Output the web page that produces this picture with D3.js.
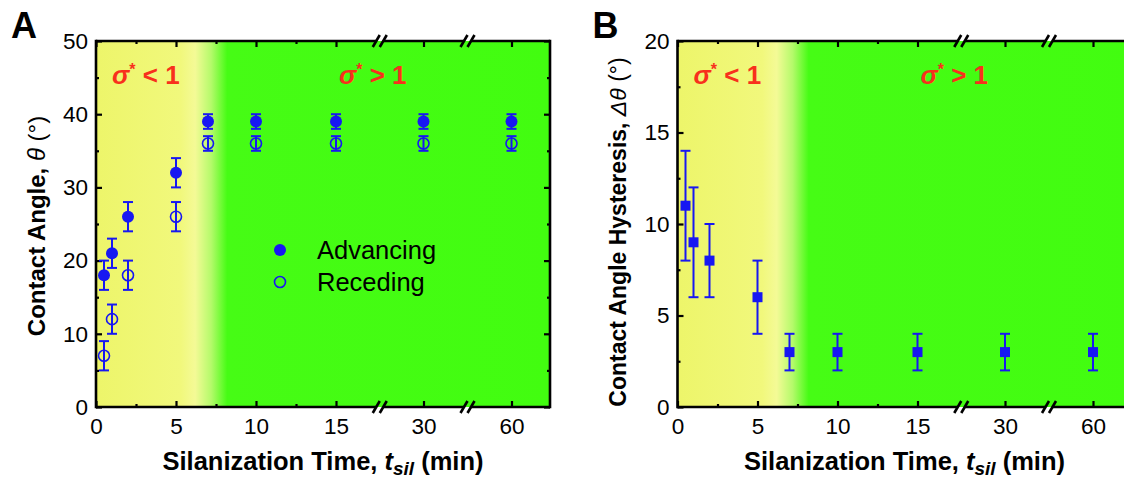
<!DOCTYPE html>
<html><head><meta charset="utf-8">
<script src="https://cdn.jsdelivr.net/npm/d3@7"></script>
<style>
html,body{margin:0;padding:0;background:#fff;}
svg{display:block;font-family:Arial,"Liberation Sans",sans-serif;}
</style></head>
<body><svg id="chart" width="1124" height="479"></svg>
<script>
// ---- data ----
const times = [0.5, 1, 2, 5, 7, 10, 15, 30, 60];
const advancing = [18, 21, 26, 32, 39, 39, 39, 39, 39];
const advancingErr = [2, 2, 2, 2, 1, 1, 1, 1, 1];
const receding = [7, 12, 18, 26, 36, 36, 36, 36, 36];
const recedingErr = [2, 2, 2, 2, 1, 1, 1, 1, 1];
const hysteresis = [11, 9, 8, 6, 3, 3, 3, 3, 3];
const hysteresisErr = [3, 3, 2, 2, 1, 1, 1, 1, 1];
const xTickValues = [0, 5, 10, 15, 30, 60];
const xTickLabels = ["0", "5", "10", "15", "30", "60"];
const xMinorValues = [2.5, 7.5, 12.5];
const xBreakDomain = [0, 15, 30, 60, 73.3];
const legendLabels = ["Advancing", "Receding"];
const bgStops = [[0, "#edf56a"], [5.3, "#f1f87c"], [6.2, "#f4fa96"], [7.2, "#b4fa6a"], [8.2, "#46fc15"], [73.3, "#42fd10"]];

const BLUE = "#1717f2", RED = "#f8301c";
const svg = d3.select("#chart");
const W = 454, H = 366, TOP = 41;

function panel(opts) {
  const g = svg.append("g").attr("transform", `translate(${opts.left},${TOP})`);
  const x = d3.scaleLinear().domain(xBreakDomain).range([0, 240, 327.5, 415.5, W]);
  const y = d3.scaleLinear().domain([0, opts.yMax]).range([H, 0]);
  const gradId = "bg" + opts.id;
  const grad = svg.append("defs").append("linearGradient").attr("id", gradId)
    .attr("gradientUnits", "userSpaceOnUse").attr("x1", 0).attr("x2", W).attr("y1", 0).attr("y2", 0);
  bgStops.forEach(s => grad.append("stop").attr("offset", x(s[0]) / W).attr("stop-color", s[1]));
  g.append("rect").attr("width", W).attr("height", H).attr("fill", `url(#${gradId})`);

  // ticks
  const ax = (fn, scale, vals, size, labels) => {
    const a = fn(scale).tickValues(vals).tickSize(size).tickPadding(6);
    a.tickFormat(labels ? ((d, i) => labels[i]) : () => "");
    return a;
  };
  const mk = (sel) => { sel.select(".domain").remove(); sel.selectAll("line").attr("stroke", "#000").attr("stroke-width", 2.2); sel.selectAll("text").attr("fill", "#000").style("font-size", "22.5px").style("font-family", "Arial, 'Liberation Sans', sans-serif"); return sel; };
  mk(g.append("g").attr("transform", `translate(0,${H})`).call(ax(d3.axisBottom, x, xTickValues, -6, xTickLabels))).selectAll("text").attr("dy", "0.75em").attr("y", 10);
  mk(g.append("g").attr("transform", `translate(0,${H})`).call(ax(d3.axisBottom, x, xMinorValues, -3)));
  mk(g.append("g").call(ax(d3.axisTop, x, xTickValues, -6)));
  mk(g.append("g").call(ax(d3.axisTop, x, xMinorValues, -3)));
  const yMaj = d3.range(0, opts.yMax + 0.001, opts.yStep);
  const yMin = d3.range(opts.yStep / 2, opts.yMax, opts.yStep);
  mk(g.append("g").call(ax(d3.axisLeft, y, yMaj, -6, yMaj.map(String)))).selectAll("text").attr("x", -8);
  mk(g.append("g").call(ax(d3.axisLeft, y, yMin, -3)));
  mk(g.append("g").attr("transform", `translate(${W},0)`).call(ax(d3.axisRight, y, yMaj, -6)));
  mk(g.append("g").attr("transform", `translate(${W},0)`).call(ax(d3.axisRight, y, yMin, -3)));

  // frame with breaks
  const b1 = (x(15) + x(30)) / 2, b2 = (x(30) + x(60)) / 2, gap = 3.5;
  const frame = g.append("g").attr("stroke", "#000").attr("stroke-width", 2.6).attr("fill", "none");
  frame.append("line").attr("x1", 0).attr("x2", 0).attr("y1", -1.3).attr("y2", H + 1.3);
  frame.append("line").attr("x1", W).attr("x2", W).attr("y1", -1.3).attr("y2", H + 1.3);
  [0, H].forEach(yy => {
    const segs = [[0, b1 - gap], [b1 + gap, b2 - gap], [b2 + gap, W]];
    segs.forEach(s => frame.append("line").attr("x1", s[0]).attr("x2", s[1]).attr("y1", yy).attr("y2", yy));
    [b1, b2].forEach(b => [-gap, gap].forEach(o => frame.append("line")
      .attr("x1", b + o - 3.5).attr("y1", yy + 6).attr("x2", b + o + 3.5).attr("y2", yy - 6)));
  });

  // sigma labels
  const sig = (tx, sym) => {
    const t = g.append("text").attr("x", tx).attr("y", 43).attr("fill", RED)
      .style("font-size", "26px").style("font-weight", "bold");
    t.append("tspan").text("σ").style("font-style", "italic");
    t.append("tspan").text("*").attr("dy", -9).style("font-size", "16px");
    t.append("tspan").text(" " + sym + " 1").attr("dy", 9);
  };
  sig(x(1), "<");
  sig(x(15.5), ">");

  // axis titles
  const xt = g.append("text").attr("x", W / 2).attr("y", H + 63).attr("text-anchor", "middle")
    .style("font-size", "25.5px").style("font-weight", "bold").attr("fill", "#000");
  xt.append("tspan").text("Silanization Time, ");
  xt.append("tspan").text("t").style("font-style", "italic");
  xt.append("tspan").text("sil").style("font-style", "italic").style("font-size", "19px").attr("dy", 5);
  xt.append("tspan").text(" (min)").attr("dy", -5);

  const yt = g.append("text").attr("transform", `translate(${opts.ytX},${opts.ytY}) rotate(-90)`)
    .attr("text-anchor", "middle").style("font-size", opts.ytSize).attr("fill", "#000");
  yt.append("tspan").text(opts.yTitle).style("font-weight", "bold");
  yt.append("tspan").text(opts.ySym).style("font-style", "italic");
  yt.append("tspan").text(" (°)");

  svg.append("text").attr("x", opts.left - 85).attr("y", 38).text(opts.id)
    .style("font-size", "36px").style("font-weight", "bold").attr("fill", "#000");
  return { g, x, y };
}

function errBars(g, x, y, vals, errs) {
  const eb = g.append("g").attr("stroke", BLUE).attr("stroke-width", 2);
  times.forEach((t, i) => {
    const cx = x(t);
    eb.append("line").attr("x1", cx).attr("x2", cx).attr("y1", y(vals[i] - errs[i])).attr("y2", y(vals[i] + errs[i]));
    [vals[i] - errs[i], vals[i] + errs[i]].forEach(v => eb.append("line").attr("x1", cx - 5).attr("x2", cx + 5).attr("y1", y(v)).attr("y2", y(v)));
  });
}

// Panel A
const A = panel({ id: "A", left: 96, yMax: 50, yStep: 10, yTitle: "Contact Angle, ", ySym: "θ", ytX: -51, ytY: 185, ytSize: "24px" });
errBars(A.g, A.x, A.y, advancing, advancingErr);
errBars(A.g, A.x, A.y, receding, recedingErr);
A.g.selectAll(".adv").data(times).enter().append("circle")
  .attr("cx", d => A.x(d)).attr("cy", (d, i) => A.y(advancing[i])).attr("r", 6).attr("fill", BLUE);
A.g.selectAll(".rec").data(times).enter().append("circle")
  .attr("cx", d => A.x(d)).attr("cy", (d, i) => A.y(receding[i])).attr("r", 5.5).attr("fill", "none").attr("stroke", BLUE).attr("stroke-width", 1.6);
// legend
const lg = A.g.append("g").attr("transform", "translate(184,209)");
lg.append("circle").attr("cx", 0).attr("cy", 0).attr("r", 6).attr("fill", BLUE);
lg.append("circle").attr("cx", 0).attr("cy", 32).attr("r", 5.5).attr("fill", "none").attr("stroke", BLUE).attr("stroke-width", 1.6);
legendLabels.forEach((l, i) => lg.append("text").attr("x", 37).attr("y", i * 32 + 9).text(l).style("font-size", "25.5px").attr("fill", "#000"));

// Panel B
const B = panel({ id: "B", left: 677.5, yMax: 20, yStep: 5, yTitle: "Contact Angle Hysteresis, ", ySym: "Δθ", ytX: -52, ytY: 191, ytSize: "23px" });
errBars(B.g, B.x, B.y, hysteresis, hysteresisErr);
B.g.selectAll(".hys").data(times).enter().append("rect")
  .attr("x", d => B.x(d) - 5).attr("y", (d, i) => B.y(hysteresis[i]) - 5).attr("width", 10).attr("height", 10).attr("fill", BLUE);
</script></body></html>
